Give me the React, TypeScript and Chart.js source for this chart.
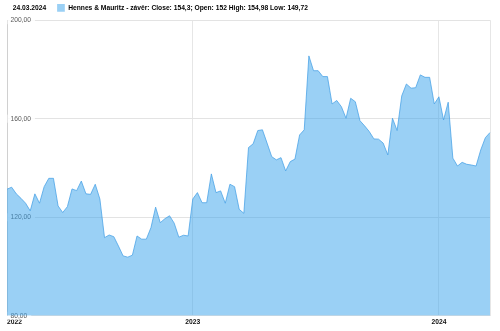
import React, { useEffect, useRef } from "react";
import { Chart, registerables } from "chart.js";

Chart.register(...registerables);

// ---- data ----
const startDate = "2022-03-27";
const endDate = "24.03.2024";
const seriesName = "Hennes & Mauritz - závěr";
const lastClose = "154,3";
const lastOpen = "152";
const lastHigh = "154,98";
const lastLow = "149,72";

// weekly closes
const closes: number[] = [
  131.4, 132.2, 129.5, 127.7, 125.7, 122.6, 129.5, 125.7, 132.4, 135.8,
  135.8, 124.6, 121.9, 124.3, 131.5, 130.8, 134.7, 129.5, 129.3, 133.4,
  127.4, 111.7, 112.8, 112.1, 108.3, 104.3, 103.8, 104.6, 112.4, 111.1,
  111.1, 115.8, 124.1, 117.8, 119.4, 120.6, 117.6, 111.9, 112.7, 112.4,
  127.4, 130.0, 125.9, 125.9, 137.6, 130.0, 130.7, 125.7, 133.4, 132.4,
  123.2, 121.6, 148.3, 149.8, 155.2, 155.5, 150.1, 144.6, 143.3, 144.2,
  138.8, 142.6, 143.6, 153.4, 155.5, 185.5, 179.5, 179.5, 177.1, 177.1,
  166.0, 167.4, 164.9, 160.2, 168.3, 166.9, 159.2, 157.1, 154.8, 151.8,
  151.7, 150.1, 145.3, 160.2, 155.2, 169.3, 174.1, 172.4, 172.6, 177.8,
  176.8, 176.8, 166.0, 168.9, 159.5, 166.7, 144.0, 140.8, 142.3, 141.5,
  141.2, 140.8, 147.3, 152.3, 154.4,
];

const yMin = 80;
const yMax = 200;
const yStep = 40;

// weekly category labels
const weekLabels: string[] = closes.map((_, i) => {
  const d = new Date(startDate + "T00:00:00Z");
  d.setUTCDate(d.getUTCDate() + 7 * i);
  return d.toISOString().slice(0, 10);
});

// x ticks: first point, first week of each new year, last point
const xTickIndex: number[] = weekLabels.reduce((acc: number[], lab, i) => {
  if (i === 0 || lab.slice(0, 4) !== weekLabels[i - 1].slice(0, 4)) acc.push(i);
  return acc;
}, []);
xTickIndex.push(weekLabels.length - 1);

const FONT = '"Liberation Sans", Arial, sans-serif';

export default function App() {
  const ref = useRef<HTMLCanvasElement | null>(null);

  useEffect(() => {
    if (!ref.current) return;
    const fillColor = "rgba(54, 162, 235, 0.5)";
    const chart = new Chart(ref.current, {
      type: "line",
      data: {
        labels: weekLabels,
        datasets: [
          {
            label: seriesName,
            data: closes,
            fill: "start",
            backgroundColor: fillColor,
            borderColor: "rgba(70, 160, 230, 0.75)",
            borderWidth: 1,
            pointRadius: 0,
            tension: 0,
          },
        ],
      },
      options: {
        animation: false,
        responsive: true,
        maintainAspectRatio: false,
        layout: { padding: { top: 2.4, right: 10, bottom: 2.2, left: 0 } },
        plugins: {
          tooltip: { enabled: false },
          legend: {
            display: true,
            position: "top",
            align: "start",
            maxHeight: 17.8,
            labels: {
              boxWidth: 7.7,
              boxHeight: 7.7,
              padding: 1.65,
              color: "#222",
              font: { family: FONT, size: 6.7, weight: "bold" },
              generateLabels: () => [
                {
                  text: endDate + "     ",
                  fillStyle: "rgba(0,0,0,0)",
                  strokeStyle: "rgba(0,0,0,0)",
                  lineWidth: 0,
                  hidden: false,
                  datasetIndex: -1,
                },
                {
                  text: `${seriesName}: Close: ${lastClose}; Open: ${lastOpen} High: ${lastHigh} Low: ${lastLow}`,
                  fillStyle: fillColor,
                  strokeStyle: fillColor,
                  lineWidth: 0,
                  hidden: false,
                  datasetIndex: 0,
                },
              ],
            },
          },
        },
        scales: {
          x: {
            type: "category",
            offset: false,
            afterBuildTicks: (axis: any) => {
              axis.ticks = axis.ticks.filter((t: any) => xTickIndex.includes(t.value));
            },
            ticks: {
              autoSkip: false,
              maxRotation: 0,
              align: "inner",
              padding: 2.5,
              color: "#111",
              font: { family: FONT, size: 6.7, weight: "bold" },
              callback: (value: any) => {
                const i = Number(value);
                if (i === weekLabels.length - 1) return "";
                return weekLabels[i].slice(0, 4);
              },
            },
            grid: { color: "#e6e6e6", drawTicks: false },
            border: { display: false },
          },
          y: {
            position: "left",
            min: yMin,
            max: yMax,
            ticks: {
              stepSize: yStep,
              mirror: true,
              padding: 3.5,
              color: "#5a5a5a",
              font: { family: FONT, size: 6.7 },
              showLabelBackdrop: true,
              backdropColor: "rgba(255,255,255,0.85)",
              backdropPadding: { left: 3, right: 4, top: 0, bottom: 0 },
              callback: (v: any) => Number(v).toFixed(2).replace(".", ","),
            },
            grid: { color: "#e3e3e3", drawTicks: false },
            border: { display: true, color: "#d0d0d0" },
          },
        },
      },
    } as any);
    return () => chart.destroy();
  }, []);

  return (
    <div style={{ position: "absolute", left: 0, top: 0, width: 500, height: 331 }}>
      <canvas ref={ref} />
    </div>
  );
}
